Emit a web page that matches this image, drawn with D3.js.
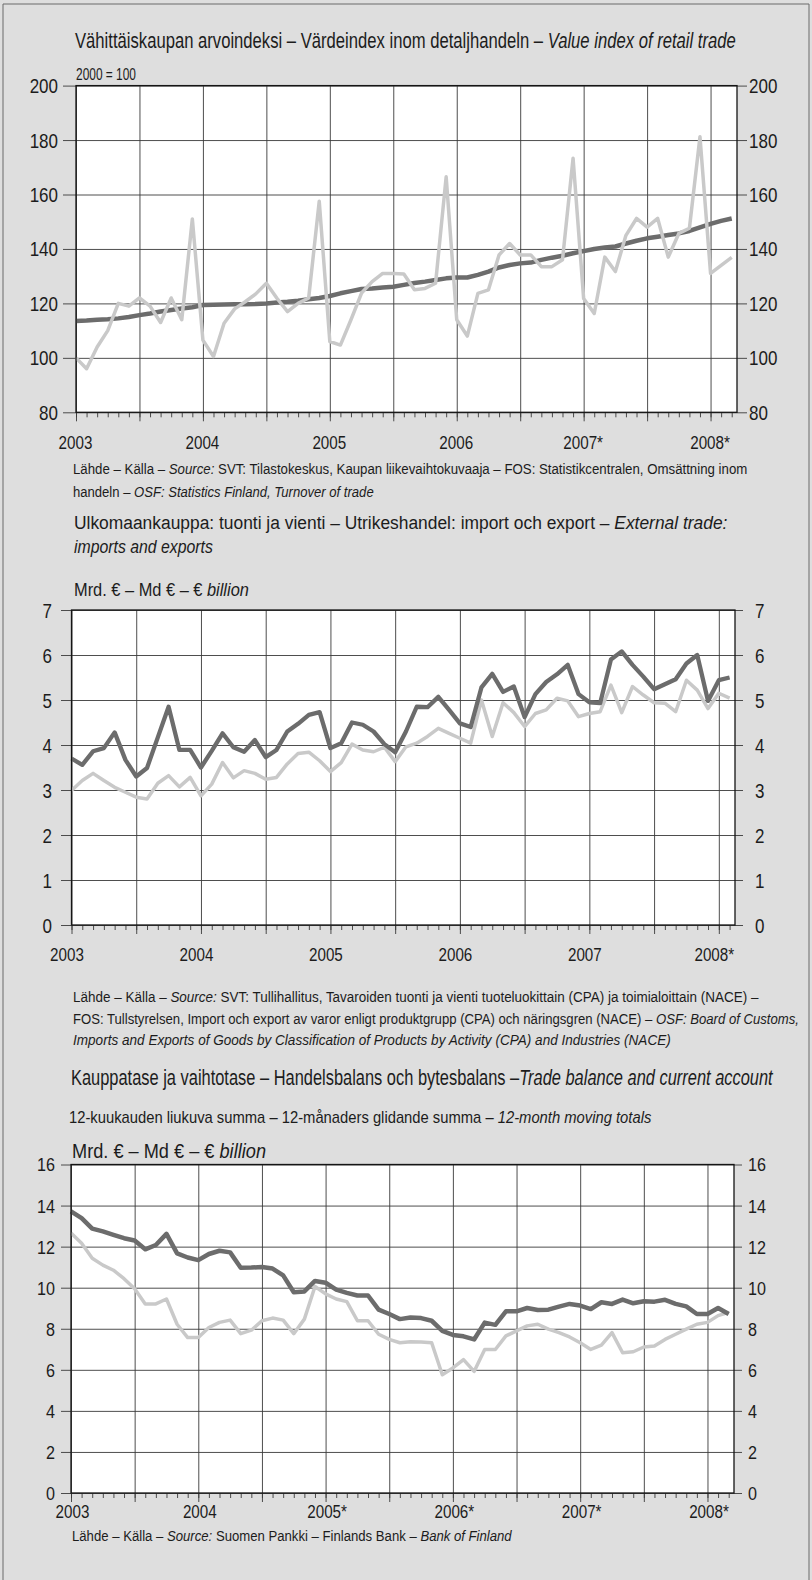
<!DOCTYPE html>
<html><head><meta charset="utf-8">
<script src="https://cdn.jsdelivr.net/npm/d3@7"></script>
<style>html,body{margin:0;padding:0;background:#dedede;}svg{display:block;}</style>
</head><body>
<script>
// ---------- DATA ----------
// Chart 1: value index of retail trade, monthly Jan 2003 – Mar 2008 (2000 = 100)
const retailMonthly = [100, 96, 104, 110, 120, 119, 122, 119, 113, 122, 114, 151,
  106.5, 100.5, 112.7, 118, 120.6, 123.5, 127.4, 121.9, 117, 120, 122, 157.5,
  106, 104.7, 114, 123.8, 128, 131, 131, 130.8, 125, 125.5, 127.4, 166.5,
  114, 108, 123.7, 125, 137.8, 142, 137.8, 137.8, 133.5, 133.5, 136, 173.3,
  121.8, 116.3, 137, 131.7, 145, 151.2, 148, 151.2, 137, 145.7, 147.6, 181.2,
  131, 134, 136.9];
const retailTrend = [113.5, 113.7, 114, 114.2, 114.5, 115, 115.7, 116.3, 117, 117.6, 118.1, 118.6,
  119.4, 119.5, 119.6, 119.7, 119.7, 119.8, 120, 120.3, 120.6, 121, 121.5, 122,
  122.7, 123.7, 124.5, 125.3, 125.5, 125.8, 126.1, 126.8, 127.5, 128, 128.6, 129.2,
  129.5, 129.5, 130.5, 131.7, 133.2, 134.1, 134.7, 135, 136, 136.8, 137.5, 138.4,
  139.2, 140, 140.5, 140.9, 142, 143, 143.9, 144.5, 145.1, 145.7, 146.6, 147.9,
  149.2, 150.3, 151.2];
const retailYTicks = [80, 100, 120, 140, 160, 180, 200];
const retailYearLabels = ["2003", "2004", "2005", "2006", "2007*", "2008*"];

// Chart 2: external trade, monthly Jan 2003 – Feb 2008, € billion
const tradeDark = [3.70, 3.56, 3.86, 3.93, 4.28, 3.67, 3.30, 3.49, 4.17, 4.85, 3.89, 3.89,
  3.5, 3.87, 4.26, 3.95, 3.85, 4.11, 3.73, 3.89, 4.3, 4.47, 4.67, 4.73,
  3.93, 4.04, 4.5, 4.45, 4.3, 4.02, 3.84, 4.3, 4.85, 4.84, 5.07, 4.78,
  4.48, 4.4, 5.28, 5.58, 5.18, 5.3, 4.62, 5.13, 5.4, 5.57, 5.78, 5.13,
  4.95, 4.93, 5.9, 6.08, 5.78, 5.52, 5.24, 5.35, 5.46, 5.81, 6.0, 4.98,
  5.44, 5.5];
const tradeLight = [2.99, 3.21, 3.37, 3.21, 3.06, 2.95, 2.84, 2.8, 3.15, 3.32, 3.07, 3.28,
  2.87, 3.13, 3.61, 3.27, 3.43, 3.37, 3.24, 3.28, 3.58, 3.81, 3.84, 3.65,
  3.41, 3.61, 4.02, 3.89, 3.85, 3.95, 3.63, 3.96, 4.04, 4.19, 4.37, 4.26,
  4.15, 4.04, 5.0, 4.19, 4.94, 4.72, 4.41, 4.7, 4.78, 5.04, 4.98, 4.63,
  4.7, 4.74, 5.33, 4.72, 5.3, 5.11, 4.94, 4.93, 4.74, 5.44, 5.22, 4.81,
  5.15, 5.04];
const tradeYTicks = [0, 1, 2, 3, 4, 5, 6, 7];
const tradeYearLabels = ["2003", "2004", "2005", "2006", "2007", "2008*"];

// Chart 3: trade balance and current account, 12-month moving totals, Jan 2003 – Mar 2008
const balanceDark = [13.72, 13.39, 12.88, 12.74, 12.57, 12.41, 12.3, 11.87, 12.08, 12.62, 11.67, 11.47,
  11.34, 11.64, 11.8, 11.72, 10.97, 10.98, 11.01, 10.93, 10.6, 9.78, 9.82, 10.33,
  10.24, 9.91, 9.75, 9.62, 9.62, 8.93, 8.72, 8.47, 8.55, 8.52, 8.39, 7.9,
  7.7, 7.63, 7.48, 8.3, 8.19, 8.85, 8.85, 9.01, 8.91, 8.93, 9.08, 9.21,
  9.13, 8.96, 9.29, 9.21, 9.42, 9.24, 9.34, 9.32, 9.41, 9.21, 9.09, 8.72,
  8.72, 9.01, 8.72];
const balanceLight = [12.66, 12.16, 11.43, 11.1, 10.85, 10.44, 9.95, 9.21, 9.21, 9.45, 8.22, 7.57,
  7.57, 8.06, 8.31, 8.42, 7.76, 7.93, 8.39, 8.52, 8.42, 7.76, 8.47, 10.06,
  9.7, 9.45, 9.32, 8.39, 8.39, 7.73, 7.48, 7.32, 7.37, 7.35, 7.32, 5.76,
  6.09, 6.5, 5.92, 6.99, 6.99, 7.65, 7.9, 8.14, 8.22, 7.98, 7.81, 7.6,
  7.32, 6.99, 7.2, 7.81, 6.83, 6.88, 7.11, 7.16, 7.48, 7.73, 7.98, 8.22,
  8.31, 8.64, 8.8];
const balanceYTicks = [0, 2, 4, 6, 8, 10, 12, 14, 16];
const balanceYearLabels = ["2003", "2004", "2005*", "2006*", "2007*", "2008*"];

// ---------- DRAWING ----------
const W = 812, H = 1580;
const FONT = "'Liberation Sans', Arial, sans-serif";
const INK = "#1c1c1c";
const DARK = "#6c6c6c", LIGHT = "#c9c9c9";
const GRID = "#3a3a3a";

const svg = d3.select("body").append("svg").attr("width", W).attr("height", H);
svg.append("rect").attr("width", W).attr("height", H).attr("fill", "#dedede");
svg.append("path").attr("d", `M3,${H} L3,4 L809,4 L809,${H}`).attr("fill", "none")
  .attr("stroke", "#6a6a6a").attr("stroke-width", 1);

function txt(x, y, parts, size, opt = {}) {
  const t = svg.append("text").attr("font-family", FONT).attr("font-size", size)
    .attr("fill", INK).attr("dominant-baseline", "central")
    .attr("text-anchor", opt.anchor || "start");
  parts.forEach(p => t.append("tspan").text(p[0]).attr("font-style", p[1] ? "italic" : null));
  let sx = opt.sx || 0.82;
  if (opt.width) sx = opt.width / t.node().getComputedTextLength();
  t.attr("transform", `translate(${x},${y}) scale(${sx},1)`);
  return t;
}

function styleLines(sel) {
  sel.select(".domain").remove();
  sel.selectAll("line").attr("stroke", GRID).attr("stroke-width", 0.9);
}

function drawChart(c) {
  const g = svg.append("g");
  const n = c.series[0].values.length;
  // plot box spans half a month past the last monthly observation
  const x = d3.scaleLinear().domain([0, n - 0.5]).range([c.left, c.right]);
  const y = d3.scaleLinear().domain(d3.extent(c.yTicks)).range([c.bottom, c.top]);
  const w = c.right - c.left, h = c.bottom - c.top;

  g.append("rect").attr("x", c.left).attr("y", c.top).attr("width", w).attr("height", h).attr("fill", "#fff");

  const monthIdx = d3.range(0, n);
  const halfYearIdx = monthIdx.filter(i => i % 6 === 0);
  const yearIdx = monthIdx.filter(i => i % 12 === 0);

  // vertical grid (half-years)
  styleLines(g.append("g").attr("transform", `translate(0,${c.bottom})`)
    .call(d3.axisBottom(x).tickValues(halfYearIdx).tickSizeInner(-h).tickSizeOuter(0).tickFormat("")));
  // half-year ticks below the axis
  styleLines(g.append("g").attr("transform", `translate(0,${c.bottom})`)
    .call(d3.axisBottom(x).tickValues(halfYearIdx).tickSizeInner(9).tickSizeOuter(0).tickFormat("")));
  // monthly minor ticks
  styleLines(g.append("g").attr("transform", `translate(0,${c.bottom})`)
    .call(d3.axisBottom(x).tickValues(monthIdx).tickSizeInner(5).tickSizeOuter(0).tickFormat("")));

  // horizontal grid
  styleLines(g.append("g").attr("transform", `translate(${c.left},0)`)
    .call(d3.axisLeft(y).tickValues(c.yTicks).tickSizeInner(-w).tickSizeOuter(0).tickFormat("")));

  // left axis
  const gl = g.append("g").attr("transform", `translate(${c.left},0)`)
    .call(d3.axisLeft(y).tickValues(c.yTicks).tickSizeInner(c.tickL).tickSizeOuter(0).tickFormat(d3.format("d")));
  styleLines(gl);
  gl.selectAll("text").attr("x", null).attr("dy", null).attr("font-family", FONT).attr("font-size", c.ySize)
    .attr("fill", INK).attr("dominant-baseline", "central").attr("text-anchor", "end")
    .attr("transform", `translate(${-(c.tickL + c.padL)},0) scale(0.85,1)`);
  // right axis
  const gr = g.append("g").attr("transform", `translate(${c.right},0)`)
    .call(d3.axisRight(y).tickValues(c.yTicks).tickSizeInner(c.tickR).tickSizeOuter(0).tickFormat(d3.format("d")));
  styleLines(gr);
  gr.selectAll("text").attr("x", null).attr("dy", null).attr("font-family", FONT).attr("font-size", c.ySize)
    .attr("fill", INK).attr("dominant-baseline", "central").attr("text-anchor", "start")
    .attr("transform", `translate(${c.tickR + c.padR},0) scale(0.85,1)`);

  // year labels
  const gy = g.append("g").attr("transform", `translate(0,${c.bottom})`)
    .call(d3.axisBottom(x).tickValues(yearIdx).tickSize(0).tickFormat((d, i) => c.yearLabels[i]));
  gy.select(".domain").remove();
  gy.selectAll("text").attr("y", null).attr("dy", null).attr("font-family", FONT).attr("font-size", 19)
    .attr("fill", INK).attr("dominant-baseline", "central").attr("text-anchor", "middle")
    .attr("transform", `translate(${c.labelShift},${c.labelY - c.bottom}) scale(0.8,1)`);

  // series
  const line = d3.line().x((d, i) => x(i)).y(d => y(d));
  c.series.forEach(s => {
    g.append("path").datum(s.values).attr("d", line).attr("fill", "none")
      .attr("stroke", s.color).attr("stroke-width", s.width)
      .attr("stroke-linejoin", "round").attr("stroke-linecap", "butt");
  });

  // frame
  g.append("rect").attr("x", c.left).attr("y", c.top).attr("width", w).attr("height", h)
    .attr("fill", "none").attr("stroke", "#151515").attr("stroke-width", 1.3);
}

// ---- Chart 1 ----
txt(75, 40, [["Vähittäiskaupan arvoindeksi – Värdeindex inom detaljhandeln – ", 0], ["Value index of retail trade", 1]], 22, { width: 661 });
txt(76, 74, [["2000 = 100", 0]], 17, { width: 60 });
drawChart({
  left: 76, right: 737, top: 85.6, bottom: 412.3,
  yTicks: retailYTicks, yearLabels: retailYearLabels,
  tickL: 13, padL: 5, tickR: 10, padR: 2, ySize: 20, labelY: 442, labelShift: -1,
  series: [
    { values: retailTrend, color: DARK, width: 4.5 },
    { values: retailMonthly, color: LIGHT, width: 3.5 }
  ]
});
txt(73, 469, [["Lähde – Källa – ", 0], ["Source:", 1], [" SVT: Tilastokeskus, Kaupan liikevaihtokuvaaja – FOS: Statistikcentralen, Omsättning inom", 0]], 15, { width: 675 });
txt(73, 492, [["handeln – ", 0], ["OSF: Statistics Finland, Turnover of trade", 1]], 15, { width: 301 });

// ---- Chart 2 ----
txt(74, 523, [["Ulkomaankauppa: tuonti ja vienti – Utrikeshandel: import och export – ", 0], ["External trade:", 1]], 19, { width: 654 });
txt(74, 546, [["imports and exports", 1]], 19, { width: 139 });
txt(74, 590, [["Mrd. € – Md € – € ", 0], ["billion", 1]], 19, { width: 175 });
drawChart({
  left: 71.5, right: 735, top: 610, bottom: 925,
  yTicks: tradeYTicks, yearLabels: tradeYearLabels,
  tickL: 10.5, padL: 9, tickR: 8, padR: 12, ySize: 20, labelY: 954, labelShift: -5,
  series: [
    { values: tradeLight, color: LIGHT, width: 3.5 },
    { values: tradeDark, color: DARK, width: 4.3 }
  ]
});
txt(73, 997, [["Lähde – Källa – ", 0], ["Source:", 1], [" SVT: Tullihallitus, Tavaroiden tuonti ja vienti tuoteluokittain (CPA) ja toimialoittain (NACE) –", 0]], 15, { width: 686 });
txt(73, 1019, [["FOS: Tullstyrelsen, Import och export av varor enligt produktgrupp (CPA) och näringsgren (NACE) – ", 0], ["OSF: Board of Customs,", 1]], 15, { width: 727 });
txt(73, 1040, [["Imports and Exports of Goods by Classification of Products by Activity (CPA) and Industries (NACE)", 1]], 15, { width: 598 });

// ---- Chart 3 ----
txt(71, 1077, [["Kauppatase ja vaihtotase – Handelsbalans och bytesbalans –", 0], ["Trade balance and current account", 1]], 22, { width: 702 });
txt(69, 1117, [["12-kuukauden liukuva summa – 12-månaders glidande summa – ", 0], ["12-month moving totals", 1]], 16, { width: 583 });
txt(72, 1151, [["Mrd. € – Md € – € ", 0], ["billion", 1]], 20, { width: 194 });
drawChart({
  left: 71, right: 734, top: 1164.5, bottom: 1493,
  yTicks: balanceYTicks, yearLabels: balanceYearLabels,
  tickL: 10, padL: 6, tickR: 8, padR: 6, ySize: 19, labelY: 1511, labelShift: 1,
  series: [
    { values: balanceLight, color: LIGHT, width: 3.5 },
    { values: balanceDark, color: DARK, width: 4.5 }
  ]
});
txt(72, 1536, [["Lähde – Källa – ", 0], ["Source:", 1], [" Suomen Pankki – Finlands Bank – ", 0], ["Bank of Finland", 1]], 15, { width: 440 });
</script>
</body></html>
